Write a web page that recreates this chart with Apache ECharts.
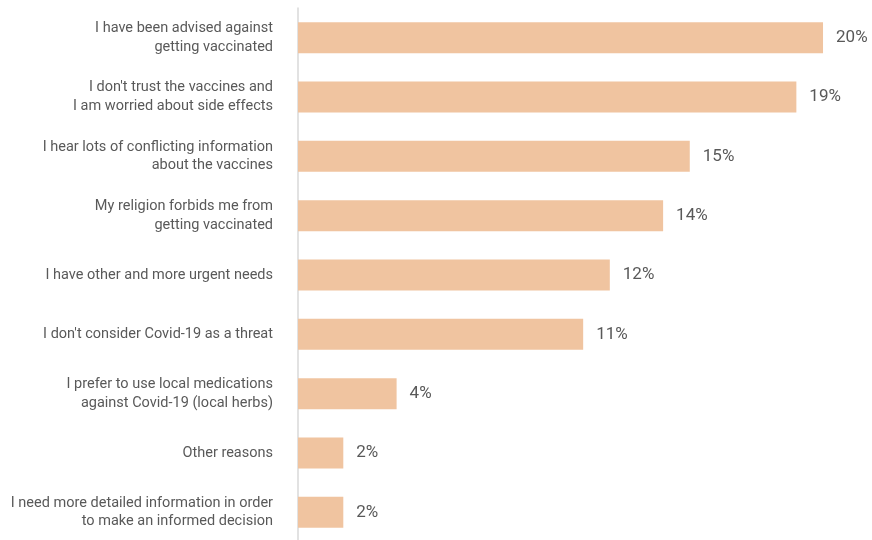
<!DOCTYPE html>
<html>
<head>
<meta charset="utf-8">
<script src="https://cdn.jsdelivr.net/npm/echarts@6/dist/echarts.min.js"></script>
<style>
  html, body { margin: 0; padding: 0; background: #ffffff; }
  #chart { width: 872px; height: 540px; }
</style>
</head>
<body>
<div id="chart"></div>
<script>
// Reasons given for not getting vaccinated (share of respondents, %)
const reasons = [
  'I have been advised against\ngetting vaccinated',
  "I don't trust the vaccines and\nI am worried about side effects",
  'I hear lots of conflicting information\nabout the vaccines',
  'My religion forbids me from\ngetting vaccinated',
  'I have other and more urgent needs',
  "I don't consider Covid-19 as a threat",
  'I prefer to use local medications\nagainst Covid-19 (local herbs)',
  'Other reasons',
  'I need more detailed information in order\nto make an informed decision'
];
const shares = [20, 19, 15, 14, 12, 11, 4, 2, 2];

const chart = echarts.init(document.getElementById('chart'), null, { renderer: 'canvas' });

chart.setOption({
  animation: false,
  backgroundColor: '#ffffff',
  grid: { left: 298, right: 9, top: 8, height: 534, containLabel: false, outerBoundsMode: 'none' },
  xAxis: {
    type: 'value',
    min: 0.3,
    max: 21.5,
    show: false
  },
  yAxis: {
    type: 'category',
    data: reasons,
    inverse: true,
    axisLine: { show: true, lineStyle: { color: '#d9d9d9', width: 1.5 } },
    axisTick: { show: false },
    axisLabel: {
      margin: 25,
      color: '#595959',
      fontFamily: 'Roboto, sans-serif',
      fontSize: 14.5,
      lineHeight: 18.5,
      align: 'right',
      padding: [2, 0, 0, 0]
    }
  },
  series: [{
    type: 'bar',
    data: shares,
    barWidth: 31,
    clip: true,
    itemStyle: { color: '#f0c4a0' },
    label: {
      show: true,
      position: 'right',
      distance: 13,
      color: '#595959',
      fontFamily: 'Roboto, sans-serif',
      fontSize: 17,
      padding: [3, 0, 0, 0],
      formatter: p => p.value + '%'
    }
  }]
});
</script>
</body>
</html>
